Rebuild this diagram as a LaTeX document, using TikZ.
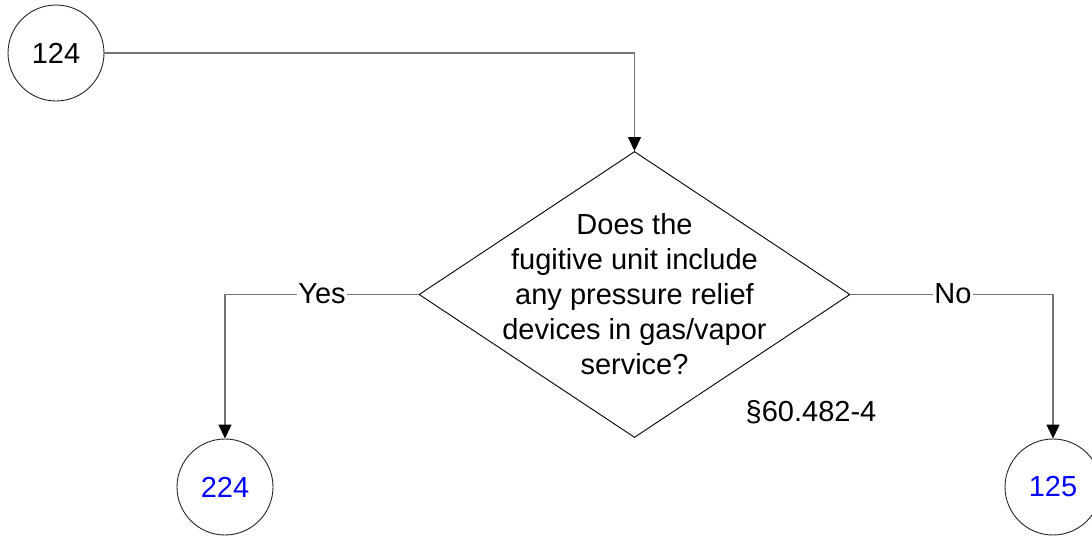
\documentclass[tikz,border=0pt]{standalone}
\usepackage{fontspec}
\setmainfont{Liberation Sans}
\usetikzlibrary{arrows.meta,shapes.geometric}
\begin{document}
\begin{tikzpicture}[x=1pt,y=-1pt,
  txt/.style={font=\fontsize{29}{35}\selectfont},
  conn/.style={draw=black!55, line width=1.3pt},
  arr/.style={conn, -{Triangle[length=14pt,width=13pt,color=black]}},
  circ/.style={circle, draw=black!85, line width=0.9pt, minimum size=96pt, inner sep=0pt, txt},
  lbl/.style={fill=white, inner sep=1pt, txt}]
\useasboundingbox (0,0) rectangle (1092,536);
\node[circ] (c124) at (56,53) {124};
\node[diamond, draw=black, line width=0.9pt, minimum width=431pt, minimum height=286pt, inner sep=0pt] (d) at (634.5,294.5) {};
\node[txt, align=center] (q) at (634.5,294) {Does the\\fugitive unit include\\any pressure relief\\devices in gas/vapor\\service?};
\node[circ, text=blue] (c224) at (225,487) {224};
\node[circ, text=blue] (c125) at (1053,487) {125};
\node[txt] (ref) at (811,412) {\S60.482-4};
\coordinate (tl) at (d.north |- c124.east);
\draw[arr] (c124.east) -- (tl) -- (d.north);
\coordinate (yl) at (c224.north |- d.west);
\coordinate (nl) at (c125.north |- d.east);
\draw[arr] (d.west) -- (yl) -- (c224.north);
\draw[arr] (d.east) -- (nl) -- (c125.north);
\node[lbl] (yes) at (322,294) {Yes};
\node[lbl] (no) at (953,294) {No};
\end{tikzpicture}
\end{document}
